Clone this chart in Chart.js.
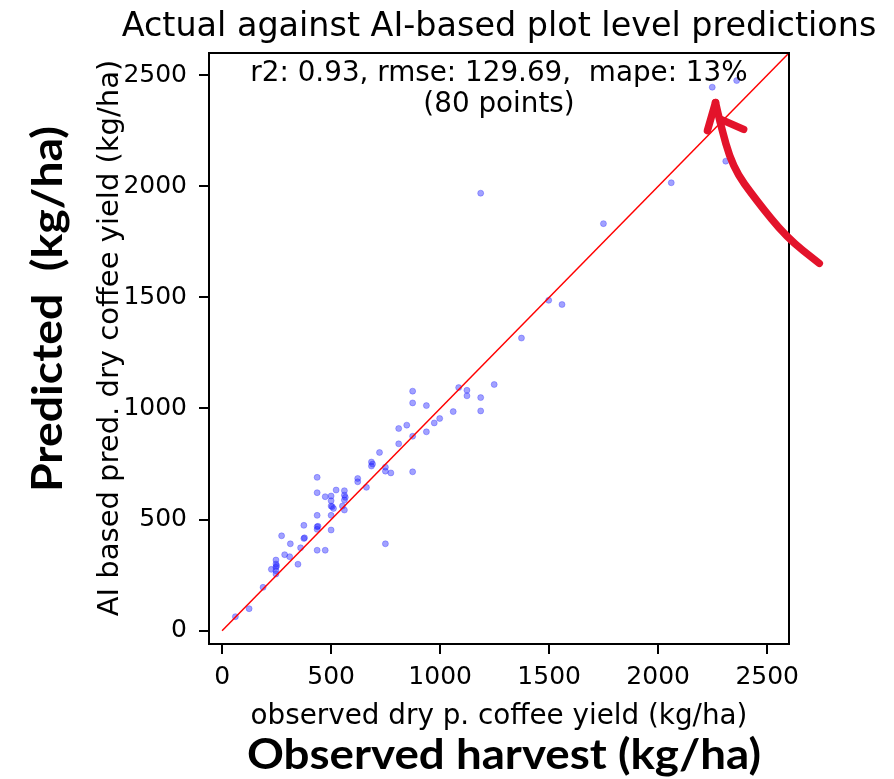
<!DOCTYPE html>
<html>
<head>
<meta charset="utf-8">
<script src="https://cdn.jsdelivr.net/npm/chart.js@4.4.0/dist/chart.umd.min.js"></script>
<style>
  html, body { margin: 0; padding: 0; background: #fff; }
  #wrap { width: 894px; height: 779px; }
</style>
</head>
<body>
<div id="wrap"><canvas id="chart" width="894" height="779"></canvas></div>
<script>
// Data (kg/ha)

const observed = [
  2248, 2360, 2310, 2060, 1749, 1186, 1498, 1559, 1373, 1248,
  874, 874, 937, 1085, 1123, 1123, 1186, 1186, 1060, 998, 973, 937, 874, 847, 810, 810, 722, 685, 685, 749, 749, 774, 874,
  436, 622, 622, 662, 523, 436, 473, 500, 561, 561, 561, 500, 500, 511, 552, 561, 436, 500, 375, 436, 436, 500,
  273, 375, 313, 360, 436, 473, 287, 310, 348, 247, 247, 247, 226, 247, 247, 188, 124, 61,
  749,
  505, 378, 440, 250, 565, 690
];
const predicted = [
  2446, 2476, 2113, 2016, 1832, 1969, 1487, 1468, 1317, 1108,
  1078, 1025, 1013, 1094, 1082, 1057, 1049, 989, 986, 955, 935, 895, 875, 925, 910, 841, 802, 759, 741, 736, 718, 710, 715,
  690, 685, 670, 645, 633, 621, 603, 606, 630, 610, 588, 585, 561, 550, 561, 543, 519, 519, 474, 468, 456, 453,
  427, 415, 391, 373, 362, 362, 342, 333, 299, 318, 300, 285, 276, 270, 255, 195, 99, 63,
  391,
  558, 418, 470, 292, 600, 750
];

const identityLine = [0, 2600];
const xTicks = [0, 500, 1000, 1500, 2000, 2500];
const yTicks = [0, 500, 1000, 1500, 2000, 2500];

const titleText = 'Actual against AI-based plot level predictions';
const statsLines = ['r2: 0.93, rmse: 129.69,  mape: 13%', '(80 points)'];
const xLabel = 'observed dry p. coffee yield (kg/ha)';
const yLabel = 'AI based pred. dry coffee yield (kg/ha)';
const xLabelBig = 'Observed harvest (kg/ha)';
const yLabelBig = 'Predicted  (kg/ha)';

// hand drawn arrow, in data units
const arrowShaft = [[2263, 2377], [2281, 2296], [2341, 2085], [2451, 1936], [2588, 1770], [2739, 1653]];
const arrowLeft = [[2263, 2377], [2226, 2251]];
const arrowRight = [[2290, 2300], [2392, 2256]];

const tickFont = { family: 'DejaVu Sans', size: 25 };
const labelFont = { family: 'DejaVu Sans', size: 27.8 };

function fitText(ctx, text, x, y, width, rot) {
  ctx.save();
  ctx.translate(x, y);
  ctx.rotate(rot);
  const w = ctx.measureText(text).width;
  ctx.scale(width / w, 1);
  ctx.fillText(text, 0, 0);
  ctx.restore();
}

const overlay = {
  id: 'overlay',
  afterDraw(chart) {
    const { ctx, chartArea: a, scales: { x, y } } = chart;
    ctx.save();

    // top + right frame
    ctx.strokeStyle = '#000';
    ctx.lineWidth = 2;
    ctx.beginPath();
    ctx.moveTo(a.left, a.top);
    ctx.lineTo(a.right, a.top);
    ctx.lineTo(a.right, a.bottom);
    ctx.stroke();

    const cx = (a.left + a.right) / 2;
    ctx.fillStyle = '#000';
    ctx.textAlign = 'center';
    ctx.textBaseline = 'alphabetic';
    ctx.font = '33.4px "DejaVu Sans"';
    ctx.fillText(titleText, cx, 36);
    ctx.font = '27.8px "DejaVu Sans"';
    ctx.fillText(statsLines[0], cx, 81);
    ctx.fillText(statsLines[1], cx, 112);

    // small y label
    ctx.save();
    ctx.translate(110, 338);
    ctx.rotate(-Math.PI / 2);
    ctx.textBaseline = 'middle';
    ctx.font = '29px "DejaVu Sans"';
    ctx.fillText(yLabel, 0, 0);
    ctx.restore();

    // big labels
    ctx.font = 'bold 42px Lato';
    fitText(ctx, xLabelBig, 504, 769, 514, 0);
    fitText(ctx, yLabelBig, 62, 309, 366, -Math.PI / 2);

    // arrow
    const px = p => [x.getPixelForValue(p[0]), y.getPixelForValue(p[1])];
    ctx.strokeStyle = '#e3132b';
    ctx.lineWidth = 7.5;
    ctx.lineCap = 'round';
    ctx.lineJoin = 'round';
    const pts = arrowShaft.map(px);
    ctx.beginPath();
    ctx.moveTo(pts[0][0], pts[0][1]);
    for (let i = 1; i < pts.length - 1; i++) {
      const mx = (pts[i][0] + pts[i + 1][0]) / 2;
      const my = (pts[i][1] + pts[i + 1][1]) / 2;
      ctx.quadraticCurveTo(pts[i][0], pts[i][1], mx, my);
    }
    ctx.lineTo(pts[pts.length - 1][0], pts[pts.length - 1][1]);
    ctx.stroke();
    [arrowLeft, arrowRight].forEach(seg => {
      const s = seg.map(px);
      ctx.beginPath();
      ctx.moveTo(s[0][0], s[0][1]);
      ctx.lineTo(s[1][0], s[1][1]);
      ctx.stroke();
    });

    ctx.restore();
  }
};

new Chart(document.getElementById('chart'), {
  data: {
    datasets: [
      {
        type: 'line',
        data: identityLine.map(v => ({ x: v, y: v })),
        borderColor: '#ff0000',
        borderWidth: 1.5,
        pointRadius: 0,
        order: 0
      },
      {
        type: 'scatter',
        data: observed.map((v, i) => ({ x: v, y: predicted[i] })),
        backgroundColor: 'rgba(30, 30, 255, 0.42)',
        borderColor: 'rgba(30, 30, 255, 0.3)',
        borderWidth: 1,
        pointRadius: 3,
        order: 1
      }
    ]
  },
  options: {
    responsive: false,
    animation: false,
    devicePixelRatio: 1,
    layout: { padding: { top: 53, right: 105, left: 0, bottom: 0 } },
    plugins: { legend: { display: false }, tooltip: { enabled: false } },
    scales: {
      x: {
        type: 'linear',
        min: -60,
        max: 2600,
        afterBuildTicks: s => { s.ticks = xTicks.map(v => ({ value: v })); },
        afterFit: s => { s.height = 135; },
        grid: { drawOnChartArea: false, tickLength: 10, color: '#000', lineWidth: 2 },
        border: { display: true, color: '#000', width: 2 },
        ticks: { color: '#000', font: tickFont, padding: 8, maxRotation: 0, autoSkip: false, callback: v => String(v) },
        title: { display: true, text: xLabel, color: '#000', font: labelFont, padding: { top: 0, bottom: 46 } }
      },
      y: {
        type: 'linear',
        min: -60,
        max: 2600,
        afterBuildTicks: s => { s.ticks = yTicks.map(v => ({ value: v })); },
        afterFit: s => { s.width = 209; },
        grid: { drawOnChartArea: false, tickLength: 10, color: '#000', lineWidth: 2 },
        border: { display: true, color: '#000', width: 2 },
        ticks: { color: '#000', font: tickFont, padding: 12, autoSkip: false, callback: v => String(v) },
        title: { display: false }
      }
    }
  },
  plugins: [overlay]
});
</script>
</body>
</html>
